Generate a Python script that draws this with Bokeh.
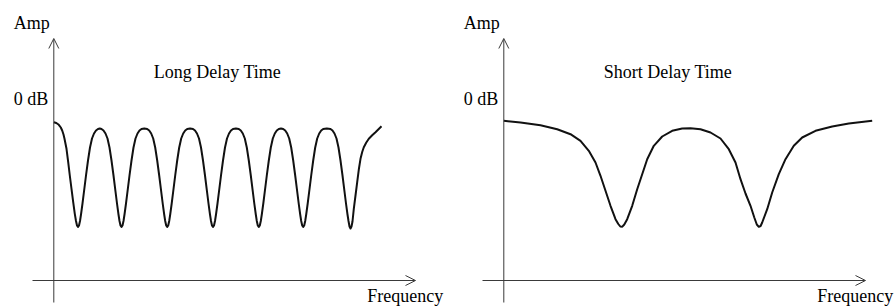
from bokeh.plotting import figure
from bokeh.models import Range1d, Label, Arrow, OpenHead, ColumnDataSource
from bokeh.layouts import row
from bokeh.embed import file_html
from bokeh.resources import INLINE

# ---------------- data (frequency and amplitude in arbitrary units; 0 = axis origin) -------------
long_freq = [0.0, 0.25, 0.5, 0.7, 0.84, 0.97, 1.07, 1.27, 1.44, 1.6, 1.77, 1.94, 2.1, 2.22, 2.32, 2.42,
             2.52, 2.62, 2.72, 2.87, 3.02, 3.22, 3.42, 3.62, 3.82, 4.02, 4.22, 4.42, 4.6,
             4.77, 4.97, 5.17, 5.37, 5.57, 5.77, 5.97, 6.17, 6.32, 6.47, 6.57, 6.67, 6.77,
             6.87, 6.97, 7.07, 7.22, 7.37, 7.57, 7.77, 7.97, 8.17, 8.37, 8.57, 8.77, 9.05,
             9.34, 9.54, 9.74, 9.94, 10.14, 10.34, 10.54, 10.74, 10.89, 11.04, 11.14, 11.24, 11.34,
             11.44, 11.54, 11.64, 11.79, 11.94, 12.14, 12.34, 12.54, 12.74, 12.94, 13.14, 13.34, 13.63,
             13.92, 14.12, 14.32, 14.52, 14.72, 14.92, 15.12, 15.32, 15.47, 15.62, 15.72, 15.82, 15.92,
             16.02, 16.12, 16.22, 16.37, 16.52, 16.72, 16.92, 17.12, 17.32, 17.52, 17.72, 17.92, 18.21,
             18.5, 18.7, 18.9, 19.1, 19.3, 19.5, 19.7, 19.9, 20.05, 20.2, 20.3, 20.4, 20.5,
             20.6, 20.7, 20.8, 20.95, 21.1, 21.3, 21.5, 21.7, 21.9, 22.1, 22.3, 22.5, 22.72,
             22.94, 23.14, 23.34, 23.54, 23.74, 23.94, 24.14, 24.34, 24.49, 24.64, 24.74, 24.84, 24.94,
             25.04, 25.14, 25.24, 25.39, 25.54, 25.74, 25.94, 26.14, 26.34, 26.54, 26.74, 26.94, 27.3,
             27.67, 27.87, 28.07, 28.27, 28.47, 28.67, 28.87, 29.07, 29.22, 29.37, 29.47, 29.57, 29.67,
             29.77, 29.87, 30.0, 30.17, 30.34, 30.5, 30.67, 30.84, 31.0, 31.25, 31.5, 31.84, 32.17, 32.77]
long_amp = [15.83, 15.75, 15.57, 15.3, 15.0, 14.6, 14.17, 13.17, 11.83, 10.5, 9.17, 7.83, 6.67, 5.95, 5.5, 5.35,
            5.5, 5.95, 6.6, 7.7, 8.9, 10.5, 12.0, 13.3, 14.2, 14.7, 15.0, 15.15, 15.2,
            15.15, 15.0, 14.7, 14.2, 13.3, 12.0, 10.5, 8.9, 7.7, 6.6, 5.95, 5.5, 5.35,
            5.5, 5.95, 6.6, 7.7, 8.9, 10.5, 12.0, 13.3, 14.2, 14.7, 15.0, 15.15, 15.2,
            15.15, 15.0, 14.7, 14.2, 13.3, 12.0, 10.5, 8.9, 7.7, 6.6, 5.95, 5.5, 5.35,
            5.5, 5.95, 6.6, 7.7, 8.9, 10.5, 12.0, 13.3, 14.2, 14.7, 15.0, 15.15, 15.2,
            15.15, 15.0, 14.7, 14.2, 13.3, 12.0, 10.5, 8.9, 7.7, 6.6, 5.95, 5.5, 5.35,
            5.5, 5.95, 6.6, 7.7, 8.9, 10.5, 12.0, 13.3, 14.2, 14.7, 15.0, 15.15, 15.2,
            15.15, 15.0, 14.7, 14.2, 13.3, 12.0, 10.5, 8.9, 7.7, 6.6, 5.95, 5.5, 5.35,
            5.5, 5.95, 6.6, 7.7, 8.9, 10.5, 12.0, 13.3, 14.2, 14.7, 15.0, 15.15, 15.2,
            15.15, 15.0, 14.7, 14.2, 13.3, 12.0, 10.5, 8.9, 7.7, 6.6, 5.95, 5.5, 5.35,
            5.5, 5.95, 6.6, 7.7, 8.9, 10.5, 12.0, 13.3, 14.2, 14.7, 15.0, 15.15, 15.2,
            15.15, 15.0, 14.7, 14.2, 13.3, 12.0, 10.5, 8.9, 7.7, 6.6, 5.95, 5.4, 5.2,
            5.4, 5.9, 7.17, 8.5, 9.83, 11.1, 12.17, 12.85, 13.33, 13.8, 14.17, 14.52, 14.83, 15.43]

short_freq = [0.0, 1.67, 3.67, 5.34, 6.67, 7.67, 8.5, 9.17, 9.67, 10.17, 10.67, 11.17, 11.45, 11.65, 11.85, 12.05,
              12.34, 12.84, 13.34, 13.84, 14.34, 15.0, 15.84, 16.84, 17.84, 18.67,
              19.67, 20.67, 21.67, 22.5, 23.17, 23.67, 24.17, 24.67, 25.05, 25.3, 25.5,
              25.68, 25.84, 26.34, 26.84, 27.5, 28.17, 29.0, 29.84, 31.17, 32.84, 34.5, 36.84]
short_amp = [15.97, 15.8, 15.53, 15.13, 14.63, 13.97, 12.97, 11.8, 10.47, 8.97, 7.47, 6.13, 5.65, 5.4, 5.38, 5.6,
             6.13, 7.47, 9.13, 10.63, 12.13, 13.47, 14.4, 14.97, 15.2, 15.23,
             15.13, 14.8, 14.2, 13.13, 11.8, 10.13, 8.7, 7.47, 6.3, 5.6, 5.37,
             5.45, 5.8, 7.13, 8.8, 10.63, 12.13, 13.47, 14.3, 14.97, 15.4, 15.7, 15.97]

panel_titles = ["Long Delay Time", "Short Delay Time"]
y_label = "Amp"
ref_label = "0 dB"
x_label = "Frequency"

# ---------------- layout constants ----------------
FONT = "Liberation Serif"
FS = "18px"
AXIS_COLOR = "#3a3a3a"
HEIGHT = 308
Y_TOP, Y_BOTTOM = 28.0, -2.8


def panel(freq, amp, title, width, x_lo):
    x_hi = x_lo + width / 10.0
    p = figure(width=width, height=HEIGHT, x_range=Range1d(x_lo, x_hi), y_range=Range1d(Y_BOTTOM, Y_TOP),
               output_backend="svg", toolbar_location=None, min_border=0,
               x_axis_type=None, y_axis_type=None)
    p.grid.visible = False
    p.outline_line_color = None
    p.background_fill_color = "white"
    p.border_fill_color = "white"

    # axes drawn as arrows
    p.add_layout(Arrow(end=OpenHead(size=10, line_width=1, line_color=AXIS_COLOR),
                       x_start=-2.13, y_start=0, x_end=36.17, y_end=0,
                       line_width=1, line_color=AXIS_COLOR))
    p.add_layout(Arrow(end=OpenHead(size=10, line_width=1, line_color=AXIS_COLOR),
                       x_start=0, y_start=-2.2, x_end=0, y_end=24.2,
                       line_width=1, line_color=AXIS_COLOR))

    src = ColumnDataSource(dict(f=freq, a=amp))
    p.line("f", "a", source=src, line_width=2, line_color="#111111", line_join="round")

    common = dict(text_font=FONT, text_font_size=FS, text_color="black", text_baseline="alphabetic")
    p.add_layout(Label(x=-4.0, y=25.75, text=y_label, **common))
    p.add_layout(Label(x=-4.0, y=18.15, text=ref_label, **common))
    p.add_layout(Label(x=10.0, y=20.85, text=title, **common))
    p.add_layout(Label(x=31.34, y=-1.5, text=x_label, **common))
    return p


p1 = panel(long_freq, long_amp, panel_titles[0], 450, -5.33)
p2 = panel(short_freq, short_amp, panel_titles[1], 445, -5.33)

layout = row(p1, p2)
open("out.html", "w").write(file_html(layout, INLINE))
